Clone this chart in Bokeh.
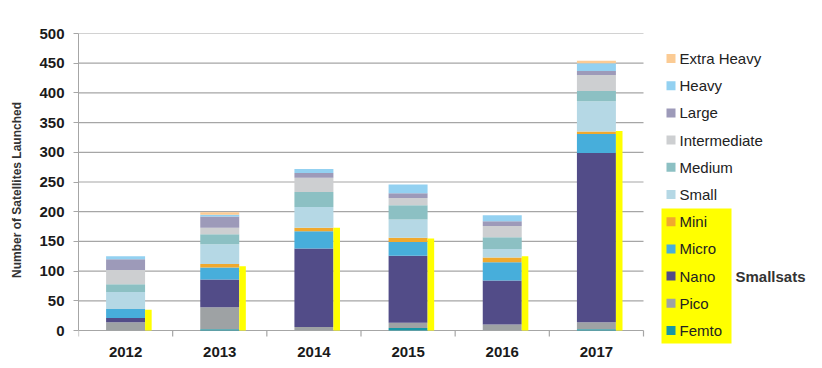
from bokeh.plotting import figure
from bokeh.models import Range1d, FixedTicker, ColumnDataSource
from bokeh.transform import dodge
from bokeh.core.properties import value
from bokeh.embed import file_html
from bokeh.resources import INLINE

years = ["2012", "2013", "2014", "2015", "2016", "2017"]
femto = [0, 2, 0, 4, 0, 2]
pico = [14, 37, 6, 9, 10, 12]
nano = [7, 47, 132, 113, 74, 285]
micro = [15, 20, 29, 23, 31, 32]
mini = [0, 6, 6, 7, 8, 4]
small = [29, 33, 35, 31, 14, 51]
medium = [13, 17, 25, 24, 20, 17]
intermediate = [24, 11, 24, 12, 19, 27]
large = [18, 19, 8, 8, 8, 7]
heavy = [5, 3, 7, 15, 10, 13]
extra_heavy = [0, 4, 0, 0, 0, 4]
smallsats_total = [35, 108, 173, 155, 125, 336]

classes = ["Femto", "Pico", "Nano", "Micro", "Mini", "Small", "Medium",
           "Intermediate", "Large", "Heavy", "Extra Heavy"]
colors = ["#1797A5", "#9EA2A4", "#524C88", "#47AEDB", "#F0A92E", "#B5D8E5",
          "#8CC0C3", "#CDCFD1", "#9D9AB9", "#93D1F1", "#FBCB94"]
y_ticks = [0, 50, 100, 150, 200, 250, 300, 350, 400, 450, 500]
y_max = 500

n = len(years)
xpos = [i + 0.5 for i in range(n)]
data = dict(x=xpos, Femto=femto, Pico=pico, Nano=nano, Micro=micro, Mini=mini,
            Small=small, Medium=medium, Intermediate=intermediate, Large=large,
            Heavy=heavy, **{"Extra Heavy": extra_heavy}, smallsats=smallsats_total)
src = ColumnDataSource(data)

FONT = "Liberation Sans"

# layout in screen pixels
W, H = 812, 366
LEFT, TOP = 78, 33
PLOT_W, PLOT_H = 565, 297          # width of the category area, height of 0..500
FRAME_BOTTOM = 346                  # frame extends a little below y=0 for the legend
px_x = PLOT_W / n                   # pixels per category
px_y = PLOT_H / y_max               # pixels per unit
x_end = (W - LEFT) / px_x
y_start = -(FRAME_BOTTOM - (TOP + PLOT_H)) / px_y

p = figure(x_range=Range1d(0, x_end), y_range=Range1d(y_start, y_max),
           width=W, height=H, output_backend="svg", toolbar_location=None,
           min_border_left=LEFT, min_border_right=0,
           min_border_top=TOP, min_border_bottom=H - FRAME_BOTTOM)
p.outline_line_color = None
p.background_fill_color = "white"
p.border_fill_color = "white"
p.xgrid.grid_line_color = None
p.ygrid.grid_line_color = None

GRID = "#A6A6A6"
# horizontal grid lines over the category area only (y=0 is the axis line)
p.segment(x0=[0] * len(y_ticks), x1=[n] * len(y_ticks), y0=y_ticks, y1=y_ticks,
          line_color=GRID, line_width=1.2)
# category boundary ticks below the axis
p.segment(x0=list(range(n + 1)), x1=list(range(n + 1)), y0=[0] * (n + 1),
          y1=[-6 / px_y] * (n + 1), line_color=GRID, line_width=1.2)

rs = p.vbar_stack(classes, x="x", width=0.414, color=colors, source=src, line_color=None)
p.vbar(x=dodge("x", 0.242), top="smallsats", width=0.07,
       source=src, color="#FFFF00", line_color=None)

# y axis
ya = p.yaxis[0]
ya.ticker = FixedTicker(ticks=y_ticks)
ya.bounds = (0, y_max)
ya.axis_line_color = GRID
ya.major_tick_line_color = GRID
ya.major_tick_out = 5
ya.major_tick_in = 0
ya.minor_tick_line_color = None
ya.major_label_standoff = 9
ya.major_label_text_font = FONT
ya.major_label_text_font_style = "bold"
ya.major_label_text_font_size = "15px"
ya.major_label_text_color = "#1a1a1a"
ya.axis_label = "Number of Satellites Launched"
ya.axis_label_text_font = FONT
ya.axis_label_text_font_style = "bold"
ya.axis_label_text_font_size = "12px"
ya.axis_label_text_color = "#333333"
ya.axis_label_standoff = 12

# x axis: only the year labels (line and ticks drawn at y=0 above)
xa = p.xaxis[0]
xa.ticker = FixedTicker(ticks=xpos, minor_ticks=[])
xa.major_label_overrides = {x: y for x, y in zip(xpos, years)}
xa.axis_line_color = None
xa.major_tick_line_color = None
xa.minor_tick_line_color = None
xa.major_tick_out = 0
xa.major_tick_in = 0
xa.major_label_standoff = 0
xa.major_label_text_font = FONT
xa.major_label_text_font_style = "bold"
xa.major_label_text_font_size = "15px"
xa.major_label_text_color = "#1a1a1a"


# legend drawn in the free area right of the categories (screen px -> data)
def dx(px):
    return (px - LEFT) / px_x


def dy(py):
    return (TOP + PLOT_H - py) / px_y


order = list(reversed(classes))
ocolors = list(reversed(colors))
row_y = [58 + i * 27.2 for i in range(len(order))]
n_small = 5
p.quad(left=[dx(661)], right=[dx(731)], top=[dy(208)], bottom=[dy(343)],
       color="#FFFF00", line_color=None)
p.rect(x=[dx(670.5)] * len(order), y=[dy(v) for v in row_y], width=9, height=9,
       width_units="screen", height_units="screen", color=ocolors, line_color=None)
p.text(x=[dx(679)] * len(order), y=[dy(v) for v in row_y], text=order,
       text_font=value(FONT), text_font_size="15px", text_baseline="middle",
       text_color="#222222")
p.text(x=[dx(735)], y=[dy(row_y[-3])], text=["Smallsats"], text_font=value(FONT),
       text_font_size="15px", text_font_style="bold", text_baseline="middle",
       text_color="#333333")

open("out.html", "w").write(file_html(p, INLINE))
